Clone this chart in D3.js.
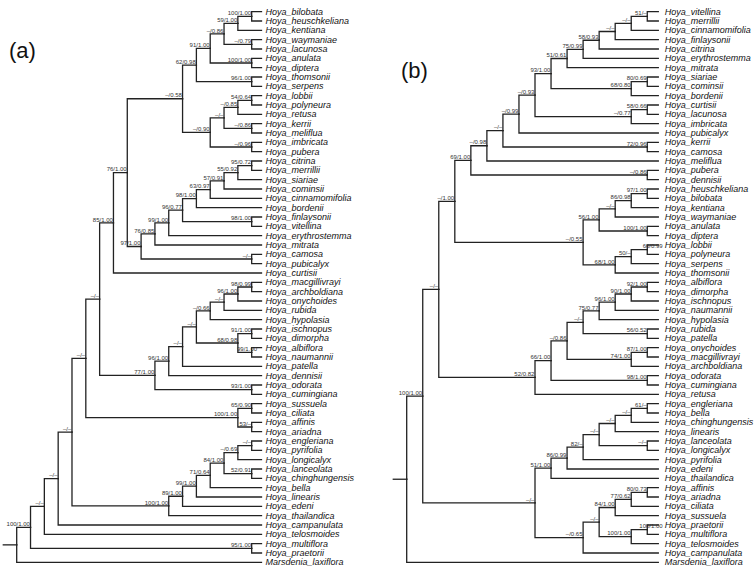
<!DOCTYPE html>
<html><head><meta charset="utf-8">
<script src="https://cdn.jsdelivr.net/npm/d3@7"></script>
<style>body{margin:0;background:#fff}svg{display:block}</style>
</head><body>
<script>
// ---- data: two phylogenies in Newick (internal labels = BS/PP support) ----
const cladeA1 = "((((((Hoya_bilobata,Hoya_heuschkeliana)100/1.00,Hoya_kentiana)59/1.00,(Hoya_waymaniae,Hoya_lacunosa)–/0.79)–/0.86,(Hoya_anulata,Hoya_diptera)100/1.00)91/1.00,(Hoya_thomsonii,Hoya_serpens)96/1.00)62/0.98,((((Hoya_lobbii,Hoya_polyneura)54/0.64,Hoya_retusa)–/0.85,(Hoya_kerrii,Hoya_meliflua)–/0.86)–/–,(Hoya_imbricata,Hoya_pubera)–/0.96)–/0.90)–/0.58";
const cladeA2 = "(((((((((Hoya_citrina,Hoya_merrillii)95/0.72,Hoya_siariae)55/0.92,Hoya_cominsii)57/0.91,Hoya_cinnamomifolia)63/0.97,Hoya_bordenii)98/1.00,(Hoya_finlaysonii,Hoya_vitellina)98/1.00)96/0.77,Hoya_erythrostemma)99/1.00,Hoya_mitrata)76/0.85,(Hoya_camosa,Hoya_pubicalyx)–/–)97/1.00";
const cladeA3 = "((((((((Hoya_macgillivrayi,Hoya_archboldiana)98/0.99,Hoya_onychoides)96/1.00,Hoya_rubida)–/–,Hoya_hypolasia)–/0.66,((Hoya_ischnopus,Hoya_dimorpha)91/1.00,(Hoya_albiflora,Hoya_naumannii)99/1.00)68/0.98)–/–,Hoya_patella)–/–,Hoya_dennisii)96/1.00,(Hoya_odorata,Hoya_cumingiana)93/1.00)77/1.00";
const cladeA4 = "((Hoya_sussuela,Hoya_ciliata)65/0.90,(Hoya_affinis,Hoya_ariadna)53/–)100/1.00";
const cladeA5 = "(((((((Hoya_engleriana,Hoya_pyrifolia)–/–,Hoya_longicalyx)–/0.69,(Hoya_lanceolata,Hoya_chinghungensis)52/0.91)84/1.00,Hoya_bella)71/0.64,Hoya_linearis)99/1.00,Hoya_edeni)89/1.00,Hoya_thailandica)100/1.00";
const treeA = "(((((((((" + cladeA1 + "," + cladeA2 + ")76/1.00,Hoya_curtisii)85/1.00," + cladeA3 + ")–/–," + cladeA4 + ")–/–," + cladeA5 + ")–/–,Hoya_campanulata)–/–,Hoya_telosmoides)–/–,(Hoya_multiflora,Hoya_praetorii)95/1.00)100/1.00,Marsdenia_laxiflora)";

const cladeB1 = "((((((((((((Hoya_vitellina,Hoya_merrillii)51/–,Hoya_cinnamomifolia)–/–,Hoya_finlaysonii)–/–,Hoya_citrina)58/0.93,Hoya_erythrostemma)75/0.99,Hoya_mitrata)51/0.61,((Hoya_siariae,Hoya_cominsii)80/0.69,Hoya_bordenii)68/0.80)93/1.00,((Hoya_curtisii,Hoya_lacunosa)58/0.66,Hoya_imbricata)–/0.77)–/0.93,Hoya_pubicalyx)–/0.99,(Hoya_kerrii,Hoya_camosa)72/0.96)–/–,Hoya_meliflua)–/0.98,(Hoya_pubera,Hoya_dennisii)–/0.86)69/1.00";
const cladeB2 = "(((((Hoya_heuschkeliana,Hoya_bilobata)97/1.00,Hoya_kentiana)86/0.98,Hoya_waymaniae)–/–,(Hoya_anulata,Hoya_diptera)100/1.00)56/1.00,(((Hoya_lobbii,Hoya_polyneura)66/0.99,Hoya_serpens)50/–,Hoya_thomsonii)68/1.00)–/0.55";
const cladeB3 = "((((((((Hoya_albiflora,Hoya_dimorpha)92/1.00,Hoya_ischnopus)90/1.00,Hoya_naumannii)96/1.00,Hoya_hypolasia)75/0.77,(Hoya_rubida,Hoya_patella)56/0.52)–/–,((Hoya_onychoides,Hoya_macgillivrayi)87/1.00,Hoya_archboldiana)74/1.00)–/0.86,(Hoya_odorata,Hoya_cumingiana)98/1.00)66/1.00,Hoya_retusa)52/0.82";
const cladeB4 = "((((((((Hoya_engleriana,Hoya_bella)61/–,Hoya_chinghungensis)–/–,Hoya_linearis)–/–,(Hoya_lanceolata,Hoya_longicalyx)–/–)–/–,Hoya_pyrifolia)82/–,Hoya_edeni)86/0.99,Hoya_thailandica)51/1.00,(((((Hoya_affinis,Hoya_ariadna)80/0.73,Hoya_ciliata)77/0.62,Hoya_sussuela)84/1.00,((Hoya_praetorii,Hoya_multiflora)100/1.00,Hoya_telosmoides)100/1.00)–/–,Hoya_campanulata)–/0.65)–/–";
const treeB = "((((" + cladeB1 + "," + cladeB2 + ")–/1.00," + cladeB3 + ")–/–," + cladeB4 + ")100/1.00,Marsdenia_laxiflora)";

const panelNames = ["(a)", "(b)"];
// cherries whose support label is drawn displaced to the right (first leaf name)
const shiftedA = ["Hoya_albiflora"];
const shiftedB = ["Hoya_lobbii", "Hoya_praetorii"];

// ---- helpers ----
function parseNewick(s) {
  let i = 0;
  function node() {
    const n = {};
    if (s[i] === "(") {
      i++;
      n.children = [node()];
      while (s[i] === ",") { i++; n.children.push(node()); }
      i++;
    }
    let name = "";
    while (i < s.length && !"(),;".includes(s[i])) name += s[i++];
    n.name = name;
    return n;
  }
  return node();
}

const W = 756, H = 578;
const svg = d3.select("body").append("svg").attr("width", W).attr("height", H)
  .attr("font-family", "'Liberation Sans', Arial, sans-serif");

function drawTree(newick, cfg, shifted) {
  const root = d3.hierarchy(parseNewick(newick));
  d3.cluster().size([1, 1]).separation(() => 1)(root);
  const xs = d3.scaleLinear().domain([0, 1]).range([cfg.rootX, cfg.leafX]);
  const ys = d3.scaleLinear().domain([0, 1]).range([cfg.top, cfg.bottom]);
  const g = svg.append("g");
  const line = g.append("g").attr("fill", "none").attr("stroke", "#222")
    .attr("stroke-width", 1.3).attr("stroke-linecap", "square");
  // root stub
  line.append("path").attr("d", `M${cfg.stubX},${ys(root.x)}H${xs(root.y)}`);
  root.descendants().slice(1).forEach(d => {
    const px = xs(d.parent.y), py = ys(d.parent.x);
    const nx = d.children ? xs(d.y) : xs(d.y) - cfg.leafGap;
    line.append("path").attr("d", `M${px},${py}V${ys(d.x)}H${nx}`);
  });
  // leaf names
  g.append("g").attr("font-size", cfg.leafFont).attr("font-style", "italic").attr("fill", "#111")
    .selectAll("text").data(root.leaves()).join("text")
    .attr("x", d => xs(d.y) + cfg.textGap).attr("y", d => ys(d.x) + cfg.leafFont * 0.35)
    .text(d => d.data.name);
  // support labels
  g.append("g").attr("font-size", 6).attr("fill", "#333").attr("text-anchor", "end")
    .selectAll("text").data(root.descendants().filter(d => d.children && d.data.name)).join("text")
    .attr("x", d => xs(d.y) - 0.6 + (shifted.includes(d.leaves()[0].data.name) && d.height === 1 ? cfg.shiftDx : 0))
    .attr("y", d => ys(d.x) - 1.3)
    .text(d => d.data.name);
}

drawTree(treeA, {stubX: 3.3, rootX: 16.7, leafX: 265.5, top: 7, bottom: 567, leafGap: 4, textGap: 0, leafFont: 9, shiftDx: 6}, shiftedA);
drawTree(treeB, {stubX: 393.3, rootX: 406.7, leafX: 663.3, top: 7, bottom: 567, leafGap: 5, textGap: 1.5, leafFont: 9, shiftDx: 16}, shiftedB);

svg.append("g").attr("font-size", 22).attr("fill", "#111")
  .selectAll("text").data(panelNames).join("text")
  .attr("x", (d, i) => i === 0 ? 9 : 401).attr("y", (d, i) => i === 0 ? 58 : 78)
  .text(d => d);
</script>
</body></html>
